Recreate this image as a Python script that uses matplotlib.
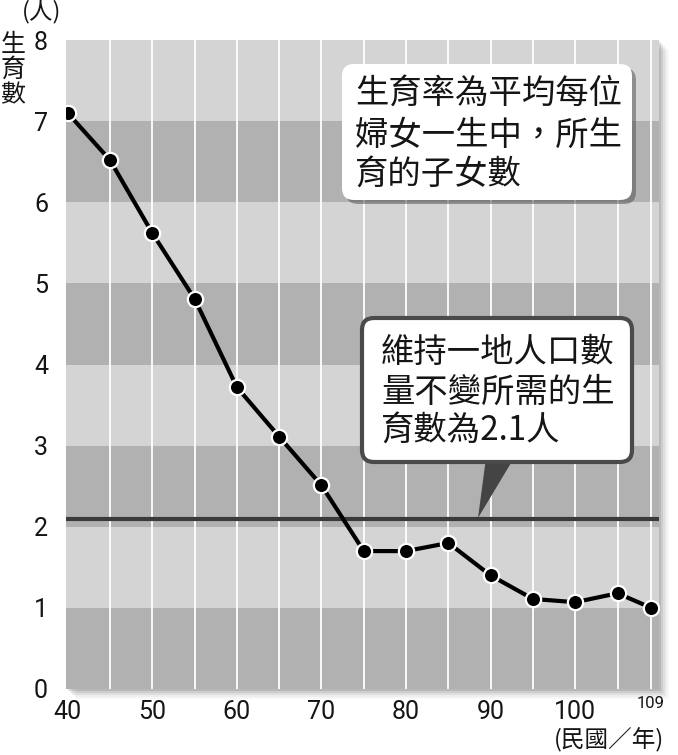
import matplotlib
matplotlib.use("Agg")
import matplotlib.pyplot as plt
from matplotlib.patches import FancyBboxPatch, Polygon, Rectangle

plt.rcParams['font.family'] = ['Noto Sans CJK TC', 'DejaVu Sans']

# 民國年 / 總生育率
years = [40, 45, 50, 55, 60, 65, 70, 75, 80, 85, 90, 95, 100, 105, 109]
tfr = [7.1, 6.52, 5.62, 4.81, 3.72, 3.11, 2.51, 1.70, 1.70, 1.80, 1.40, 1.11, 1.07, 1.18, 1.00]
replacement = 2.1
xticks = [40, 50, 60, 70, 80, 90, 100]
yticks = [0, 1, 2, 3, 4, 5, 6, 7, 8]

note1 = "生育率為平均每位\n婦女一生中，所生\n育的子女數"
note2 = "維持一地人口數\n量不變所需的生\n育數為2.1人"

DARK = "#b1b1b1"
LIGHT = "#d4d4d4"
TXT = "#151515"
NUMFONT = ['Roboto', 'DejaVu Sans']
W, H = 678, 755

fig = plt.figure(figsize=(W / 100, H / 100), dpi=100)
fig.patch.set_facecolor("white")

# axes placement in pixels
L, R, T, B = 66, 659, 40, 689
ax = fig.add_axes([L / W, 1 - B / H, (R - L) / W, (B - T) / H])

# soft drop shadow behind the plot area
for i, a in enumerate([0.10, 0.08, 0.06, 0.04, 0.03]):
    off = 2 + i * 2
    fig.patches.append(Rectangle(((L + off) / W, 1 - (B + off) / H), (R - L) / W, (B - T) / H,
                                 transform=fig.transFigure, facecolor="black", alpha=a,
                                 edgecolor="none", zorder=-5))

ax.set_xlim(39.8, 109.9)
ax.set_ylim(0, 8)
for k in range(8):
    ax.axhspan(k, k + 1, color=DARK if k % 2 == 0 else LIGHT, lw=0, zorder=0)
for xv in list(range(45, 106, 5)) + [109]:
    ax.axvline(xv, color="white", lw=1.3, zorder=1)

ax.axhline(replacement, color="#3a3a3a", lw=3, zorder=2)
ax.plot(years, tfr, color="black", lw=3, zorder=3, solid_joinstyle="round")
ax.plot(years, tfr, "o", ms=11, mfc="black", mec="white", mew=1.6, zorder=4)

for s in ax.spines.values():
    s.set_visible(False)
ax.tick_params(length=0)
ax.set_yticks(yticks)
ax.set_yticklabels([str(v) for v in yticks], fontsize=18, family=NUMFONT,
                   color=TXT, ha="center")
ax.tick_params(axis="y", pad=18)
ax.set_xticks(xticks)
ax.set_xticklabels([str(v) for v in xticks], fontsize=18, family=NUMFONT, color=TXT)
ax.tick_params(axis="x", pad=8)

# overlay in pixel coordinates for labels and callouts
ov = fig.add_axes([0, 0, 1, 1], facecolor="none")
ov.set_xlim(0, W)
ov.set_ylim(H, 0)
ov.axis("off")

ov.text(651, 704, "109", fontsize=12, ha="center", va="center", family=NUMFONT, color=TXT)
ov.text(609, 740, "(民國／年)", fontsize=17, ha="center", va="center", color=TXT)
ov.text(42, 12, "(人)", fontsize=17, ha="center", va="center", color=TXT)
ov.text(13, 70, "生\n育\n數", fontsize=18, ha="center", va="center", color=TXT,
        linespacing=0.95)

# callout 1 (white with shadow)
ov.add_patch(FancyBboxPatch((346, 68), 290, 136, boxstyle="round,pad=0,rounding_size=12",
                            facecolor="#555555", edgecolor="none", alpha=0.55, zorder=5))
ov.add_patch(FancyBboxPatch((342, 64), 290, 136, boxstyle="round,pad=0,rounding_size=12",
                            facecolor="white", edgecolor="none", zorder=6))
ov.text(355, 135, note1, fontsize=24, ha="left", va="center", linespacing=1.2,
        color=TXT, zorder=7)

# callout 2 (outlined with tail to the 2.1 line)
ov.add_patch(Polygon([(486, 458), (514, 458), (478, 518)], closed=True,
                     facecolor="#444444", edgecolor="none", zorder=5))
ov.add_patch(FancyBboxPatch((362, 318), 270, 144, boxstyle="round,pad=0,rounding_size=12",
                            facecolor="white", edgecolor="#4a4a4a", lw=3, zorder=6))
ov.text(381, 392, note2, fontsize=24, ha="left", va="center", linespacing=1.15,
        color=TXT, zorder=7)

fig.savefig("out.png", dpi=100)
